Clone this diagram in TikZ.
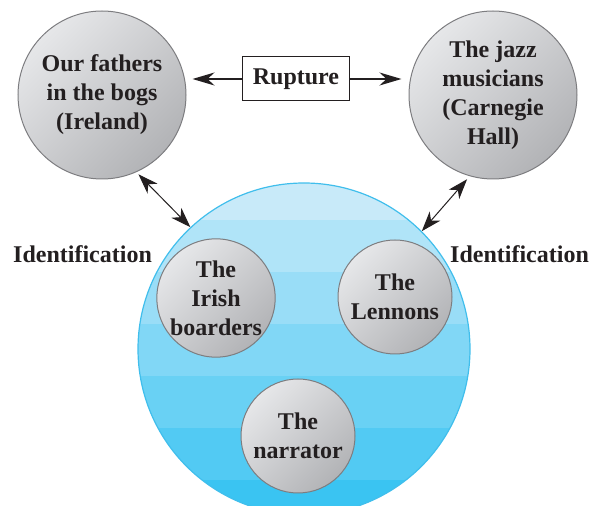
\documentclass[tikz,border=0pt]{standalone}
\usepackage{fontspec}
\setmainfont{Liberation Serif}
\usepackage{tikz}
\usetikzlibrary{positioning}
\usetikzlibrary{arrows.meta}
\definecolor{bandtop}{RGB}{200,234,249}
\definecolor{bandbot}{RGB}{58,196,242}
\definecolor{bluerim}{RGB}{64,190,236}
\definecolor{graylite}{RGB}{230,231,233}
\definecolor{graydark}{RGB}{178,179,182}
\definecolor{grayrim}{RGB}{125,125,128}
\definecolor{ink}{RGB}{35,31,32}
\tikzset{bubble/.style={circle, draw=grayrim, line width=1pt,
  top color=graylite, bottom color=graydark, shading angle=45,
  text=ink, font=\fontsize{24}{29}\selectfont\bfseries, align=center, inner sep=0pt}}
\tikzset{idtext/.style={text=ink, font=\fontsize{24}{29}\selectfont\bfseries, inner sep=0pt}}
\tikzset{bigarrow/.style={draw=ink, line width=1.3pt, -{Stealth[length=22pt,width=13pt,inset=7pt]}}}
\tikzset{idarrow/.style={draw=ink, line width=1pt,
  {Stealth[length=20pt,width=14pt,inset=6pt]}-{Stealth[length=20pt,width=14pt,inset=6pt]}}}

\begin{document}
\begin{tikzpicture}[x=1pt,y=1pt]
\clip (0,0) rectangle (595,506);
% blue group with bands
\begin{scope}
\clip (304,157) circle (166);
\foreach \i in {0,...,6} {
\pgfmathsetmacro{\p}{\i*100/6}
\fill[bandbot!\p!bandtop] (130,338-52*\i) rectangle (480,286-52*\i);
}
\end{scope}
\node[circle, draw=bluerim, line width=1.2pt, minimum size=332pt, inner sep=0pt] (group) at (304,157) {};

\node[bubble, minimum size=168pt] (fathers) at (102,411) {Our fathers\\in the bogs\\(Ireland)};
\node[bubble, minimum size=168pt] (jazz) at (493,411) {The jazz\\musicians\\(Carnegie\\Hall)};
\node[bubble, minimum size=118pt] (irish) at (216,208) {The\\Irish\\boarders};
\node[bubble, minimum size=114pt] (lennons) at (395,209) {The\\Lennons};
\node[bubble, minimum size=114pt] (narrator) at (298,70) {The\\narrator};

\node[draw=ink, line width=1pt, fill=white, minimum width=107pt, minimum height=44pt,
  text=ink, font=\fontsize{24}{29}\selectfont\bfseries] (rupture) at (296,427) {Rupture};

\node[idtext, anchor=base west] (idleft) at (13,243) {Identification};
\node[idtext, anchor=base west] (idright) at (450,243) {Identification};

\draw[bigarrow, shorten >=6pt] (rupture.west) -- (rupture.west -| fathers.east);
\draw[bigarrow, shorten >=7pt] (rupture.east) -- (rupture.east -| jazz.west);
\draw[idarrow, shorten <=3pt] (fathers.-66) -- (group.133);
\draw[idarrow, shorten <=4pt] (jazz.-106) -- (group.45);
\end{tikzpicture}
\end{document}
